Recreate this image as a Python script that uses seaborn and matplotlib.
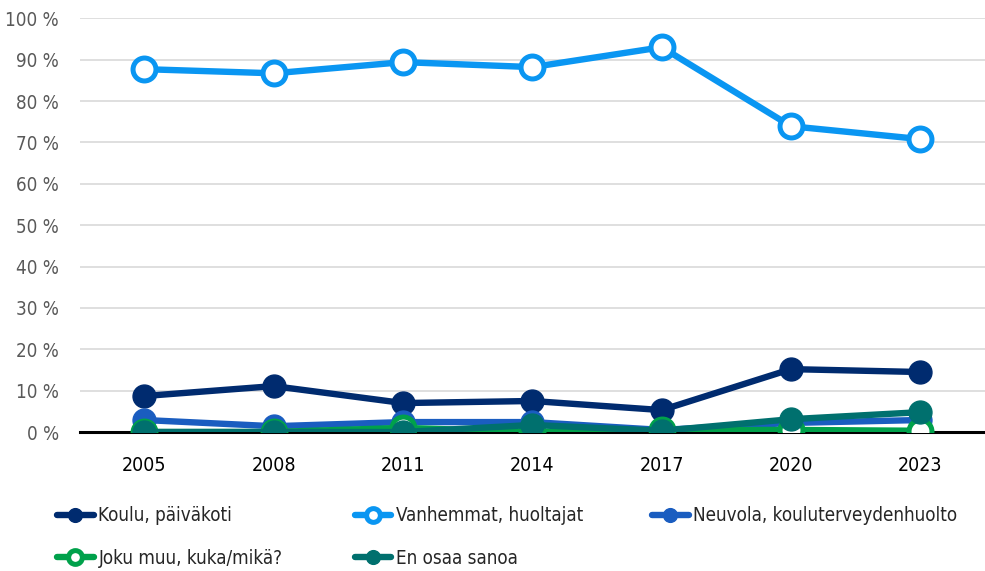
import pandas as pd
import numpy as np
import matplotlib.pyplot as plt
import seaborn as sns
from matplotlib import font_manager
from matplotlib.ticker import FuncFormatter

years = ["2005", "2008", "2011", "2014", "2017", "2020", "2023"]
koulu = [8.7, 11.1, 7.0, 7.5, 5.3, 15.2, 14.5]
vanhemmat = [87.7, 86.7, 89.4, 88.2, 93.0, 73.9, 70.8]
neuvola = [2.9, 1.4, 2.4, 2.4, 0.5, 2.2, 2.9]
joku_muu = [0.0, 0.0, 1.0, 0.0, 0.5, 0.5, 0.3]
en_osaa = [0.0, 0.0, 0.0, 1.7, 0.3, 3.1, 4.8]

series = [
    ("Koulu, päiväkoti", koulu, "#002B6F", False),
    ("Vanhemmat, huoltajat", vanhemmat, "#0A96F2", True),
    ("Neuvola, kouluterveydenhuolto", neuvola, "#1A5DC0", False),
    ("Joku muu, kuka/mikä?", joku_muu, "#00A14B", True),
    ("En osaa sanoa", en_osaa, "#00706E", False),
]

sns.set_theme(style="white")

# look for a condensed face, fall back to DejaVu Sans
cond = [f for f in font_manager.fontManager.ttflist
        if ("Condensed" in f.fname or "Narrow" in f.fname) and "Bold" not in f.fname
        and "Oblique" not in f.fname and "Italic" not in f.fname]
if cond:
    plt.rcParams['font.family'] = [cond[0].name]
    plt.rcParams['font.stretch'] = cond[0].stretch
else:
    plt.rcParams['font.family'] = ['DejaVu Sans']
    plt.rcParams['font.stretch'] = 'condensed'

fig = plt.figure(figsize=(9.85, 5.71), dpi=100)
ax = fig.add_axes([0.081, 0.2434, 0.919, 0.7246])

for name, vals, color, hollow in series:
    df = pd.DataFrame({"year": years, "value": vals})
    sns.lineplot(data=df, x="year", y="value", ax=ax, color=color, lw=4.6,
                 marker="o", markersize=16.5, markeredgecolor=color,
                 markerfacecolor="white" if hollow else color,
                 markeredgewidth=3.6 if hollow else 1, label=name, zorder=3)

ax.set_ylim(0, 100)
ax.set_xlim(-0.5, len(years) - 0.5)
ax.set_yticks(np.arange(0, 101, 10))
ax.yaxis.set_major_formatter(FuncFormatter(lambda v, p: f"{int(v)} %"))
ax.grid(axis="y", color="#D9D9D9", lw=1.2)
ax.set_axisbelow(True)
for s in ["top", "right", "left"]:
    ax.spines[s].set_visible(False)
ax.spines["bottom"].set_color("black")
ax.spines["bottom"].set_linewidth(2.2)
ax.spines["bottom"].set_zorder(2)
ax.set_xlabel("")
ax.set_ylabel("")
ax.tick_params(axis="y", labelsize=13.5, colors="#595959", length=0, pad=15)
ax.tick_params(axis="x", labelsize=14, colors="black", length=0, pad=17)

ax.get_legend().remove()
handles, labels = ax.get_legend_handles_labels()
# Excel-like legend: three equal columns, filled row by row
col_x = [0.058, 0.36, 0.662]
for c, x in enumerate(col_x):
    idx = [i for i in range(len(handles)) if i % 3 == c]
    fig.legend([handles[i] for i in idx], [labels[i] for i in idx],
               loc="upper left", bbox_to_anchor=(x, 0.113), frameon=False,
               fontsize=13.5, markerscale=0.6, handlelength=1.95,
               handletextpad=0.25, labelspacing=1.25, borderaxespad=0,
               borderpad=0)

fig.savefig("out.png", dpi=100)
